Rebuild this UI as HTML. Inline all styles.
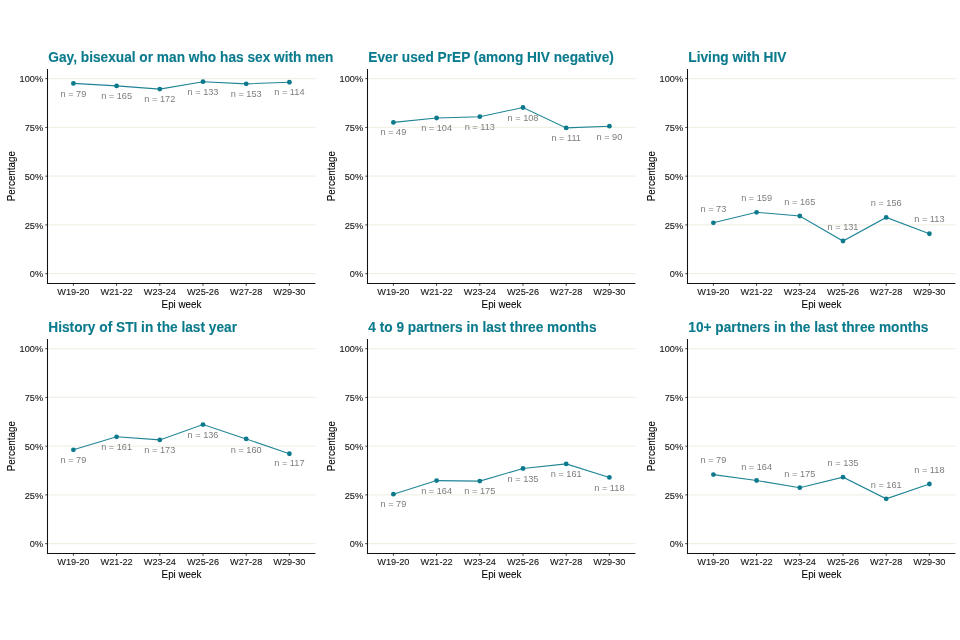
<!DOCTYPE html>
<html><head><meta charset="utf-8"><style>
html,body{margin:0;padding:0;background:#fff;width:960px;height:640px;overflow:hidden}
svg{display:block;will-change:transform;font-family:"Liberation Sans",sans-serif}
</style></head><body>
<svg width="960" height="640" viewBox="0 0 960 640">
<rect width="960" height="640" fill="#fff"/>
<line x1="47.5" y1="273.65" x2="315.4" y2="273.65" stroke="#f0f0e7" stroke-width="1.1"/>
<line x1="47.5" y1="224.9" x2="315.4" y2="224.9" stroke="#f0f0e7" stroke-width="1.1"/>
<line x1="47.5" y1="176.15" x2="315.4" y2="176.15" stroke="#f0f0e7" stroke-width="1.1"/>
<line x1="47.5" y1="127.4" x2="315.4" y2="127.4" stroke="#f0f0e7" stroke-width="1.1"/>
<line x1="47.5" y1="78.65" x2="315.4" y2="78.65" stroke="#f0f0e7" stroke-width="1.1"/>
<line x1="45.3" y1="273.65" x2="47.5" y2="273.65" stroke="#444" stroke-width="1"/>
<text transform="translate(43.1 277.25) scale(1 1.05)" text-anchor="end" font-size="9.2" fill="#1a1a1a" stroke="#1a1a1a" stroke-width="0.12">0%</text>
<line x1="45.3" y1="224.9" x2="47.5" y2="224.9" stroke="#444" stroke-width="1"/>
<text transform="translate(43.1 228.5) scale(1 1.05)" text-anchor="end" font-size="9.2" fill="#1a1a1a" stroke="#1a1a1a" stroke-width="0.12">25%</text>
<line x1="45.3" y1="176.15" x2="47.5" y2="176.15" stroke="#444" stroke-width="1"/>
<text transform="translate(43.1 179.75) scale(1 1.05)" text-anchor="end" font-size="9.2" fill="#1a1a1a" stroke="#1a1a1a" stroke-width="0.12">50%</text>
<line x1="45.3" y1="127.4" x2="47.5" y2="127.4" stroke="#444" stroke-width="1"/>
<text transform="translate(43.1 131) scale(1 1.05)" text-anchor="end" font-size="9.2" fill="#1a1a1a" stroke="#1a1a1a" stroke-width="0.12">75%</text>
<line x1="45.3" y1="78.65" x2="47.5" y2="78.65" stroke="#444" stroke-width="1"/>
<text transform="translate(43.1 82.25) scale(1 1.05)" text-anchor="end" font-size="9.2" fill="#1a1a1a" stroke="#1a1a1a" stroke-width="0.12">100%</text>
<line x1="73.4" y1="283.5" x2="73.4" y2="285.8" stroke="#444" stroke-width="1"/>
<text transform="translate(73.4 294.8) scale(1 1.05)" text-anchor="middle" font-size="9.2" fill="#1a1a1a" stroke="#1a1a1a" stroke-width="0.12">W19-20</text>
<line x1="116.6" y1="283.5" x2="116.6" y2="285.8" stroke="#444" stroke-width="1"/>
<text transform="translate(116.6 294.8) scale(1 1.05)" text-anchor="middle" font-size="9.2" fill="#1a1a1a" stroke="#1a1a1a" stroke-width="0.12">W21-22</text>
<line x1="159.8" y1="283.5" x2="159.8" y2="285.8" stroke="#444" stroke-width="1"/>
<text transform="translate(159.8 294.8) scale(1 1.05)" text-anchor="middle" font-size="9.2" fill="#1a1a1a" stroke="#1a1a1a" stroke-width="0.12">W23-24</text>
<line x1="203" y1="283.5" x2="203" y2="285.8" stroke="#444" stroke-width="1"/>
<text transform="translate(203 294.8) scale(1 1.05)" text-anchor="middle" font-size="9.2" fill="#1a1a1a" stroke="#1a1a1a" stroke-width="0.12">W25-26</text>
<line x1="246.2" y1="283.5" x2="246.2" y2="285.8" stroke="#444" stroke-width="1"/>
<text transform="translate(246.2 294.8) scale(1 1.05)" text-anchor="middle" font-size="9.2" fill="#1a1a1a" stroke="#1a1a1a" stroke-width="0.12">W27-28</text>
<line x1="289.4" y1="283.5" x2="289.4" y2="285.8" stroke="#444" stroke-width="1"/>
<text transform="translate(289.4 294.8) scale(1 1.05)" text-anchor="middle" font-size="9.2" fill="#1a1a1a" stroke="#1a1a1a" stroke-width="0.12">W29-30</text>
<path d="M47.5 68.9 V283.5 H315.4" fill="none" stroke="#111" stroke-width="1.05"/>
<text transform="translate(48.3 62.2) scale(1 1.06)" font-size="13.7" fill="#0a7a8d" stroke="#0a7a8d" stroke-width="0.12" font-weight="bold">Gay, bisexual or man who has sex with men</text>
<text transform="translate(181.45 308.2) scale(1 1.05)" text-anchor="middle" font-size="9.8" fill="#000000" stroke="#000000" stroke-width="0.08">Epi week</text>
<text transform="translate(15.4 176.2) rotate(-90) scale(1 1.05)" text-anchor="middle" font-size="9.8" fill="#000000" stroke="#000000" stroke-width="0.08">Percentage</text>
<path d="M73.4 83.4 L116.6 85.9 L159.8 89.1 L203 81.7 L246.2 83.85 L289.4 82.25" fill="none" stroke="#1f8596" stroke-width="1.1"/>
<circle cx="73.4" cy="83.4" r="2.4" fill="#0c798d"/>
<circle cx="116.6" cy="85.9" r="2.4" fill="#0c798d"/>
<circle cx="159.8" cy="89.1" r="2.4" fill="#0c798d"/>
<circle cx="203" cy="81.7" r="2.4" fill="#0c798d"/>
<circle cx="246.2" cy="83.85" r="2.4" fill="#0c798d"/>
<circle cx="289.4" cy="82.25" r="2.4" fill="#0c798d"/>
<text transform="translate(73.4 96.8) scale(1 1.05)" text-anchor="middle" font-size="9.2" fill="#7d7d7d" stroke="#7d7d7d" stroke-width="0">n = 79</text>
<text transform="translate(116.6 99) scale(1 1.05)" text-anchor="middle" font-size="9.2" fill="#7d7d7d" stroke="#7d7d7d" stroke-width="0">n = 165</text>
<text transform="translate(159.8 102.45) scale(1 1.05)" text-anchor="middle" font-size="9.2" fill="#7d7d7d" stroke="#7d7d7d" stroke-width="0">n = 172</text>
<text transform="translate(203 95) scale(1 1.05)" text-anchor="middle" font-size="9.2" fill="#7d7d7d" stroke="#7d7d7d" stroke-width="0">n = 133</text>
<text transform="translate(246.2 97.2) scale(1 1.05)" text-anchor="middle" font-size="9.2" fill="#7d7d7d" stroke="#7d7d7d" stroke-width="0">n = 153</text>
<text transform="translate(289.4 95.3) scale(1 1.05)" text-anchor="middle" font-size="9.2" fill="#7d7d7d" stroke="#7d7d7d" stroke-width="0">n = 114</text>
<line x1="367.5" y1="273.65" x2="635.4" y2="273.65" stroke="#f0f0e7" stroke-width="1.1"/>
<line x1="367.5" y1="224.9" x2="635.4" y2="224.9" stroke="#f0f0e7" stroke-width="1.1"/>
<line x1="367.5" y1="176.15" x2="635.4" y2="176.15" stroke="#f0f0e7" stroke-width="1.1"/>
<line x1="367.5" y1="127.4" x2="635.4" y2="127.4" stroke="#f0f0e7" stroke-width="1.1"/>
<line x1="367.5" y1="78.65" x2="635.4" y2="78.65" stroke="#f0f0e7" stroke-width="1.1"/>
<line x1="365.3" y1="273.65" x2="367.5" y2="273.65" stroke="#444" stroke-width="1"/>
<text transform="translate(363.1 277.25) scale(1 1.05)" text-anchor="end" font-size="9.2" fill="#1a1a1a" stroke="#1a1a1a" stroke-width="0.12">0%</text>
<line x1="365.3" y1="224.9" x2="367.5" y2="224.9" stroke="#444" stroke-width="1"/>
<text transform="translate(363.1 228.5) scale(1 1.05)" text-anchor="end" font-size="9.2" fill="#1a1a1a" stroke="#1a1a1a" stroke-width="0.12">25%</text>
<line x1="365.3" y1="176.15" x2="367.5" y2="176.15" stroke="#444" stroke-width="1"/>
<text transform="translate(363.1 179.75) scale(1 1.05)" text-anchor="end" font-size="9.2" fill="#1a1a1a" stroke="#1a1a1a" stroke-width="0.12">50%</text>
<line x1="365.3" y1="127.4" x2="367.5" y2="127.4" stroke="#444" stroke-width="1"/>
<text transform="translate(363.1 131) scale(1 1.05)" text-anchor="end" font-size="9.2" fill="#1a1a1a" stroke="#1a1a1a" stroke-width="0.12">75%</text>
<line x1="365.3" y1="78.65" x2="367.5" y2="78.65" stroke="#444" stroke-width="1"/>
<text transform="translate(363.1 82.25) scale(1 1.05)" text-anchor="end" font-size="9.2" fill="#1a1a1a" stroke="#1a1a1a" stroke-width="0.12">100%</text>
<line x1="393.4" y1="283.5" x2="393.4" y2="285.8" stroke="#444" stroke-width="1"/>
<text transform="translate(393.4 294.8) scale(1 1.05)" text-anchor="middle" font-size="9.2" fill="#1a1a1a" stroke="#1a1a1a" stroke-width="0.12">W19-20</text>
<line x1="436.6" y1="283.5" x2="436.6" y2="285.8" stroke="#444" stroke-width="1"/>
<text transform="translate(436.6 294.8) scale(1 1.05)" text-anchor="middle" font-size="9.2" fill="#1a1a1a" stroke="#1a1a1a" stroke-width="0.12">W21-22</text>
<line x1="479.8" y1="283.5" x2="479.8" y2="285.8" stroke="#444" stroke-width="1"/>
<text transform="translate(479.8 294.8) scale(1 1.05)" text-anchor="middle" font-size="9.2" fill="#1a1a1a" stroke="#1a1a1a" stroke-width="0.12">W23-24</text>
<line x1="523" y1="283.5" x2="523" y2="285.8" stroke="#444" stroke-width="1"/>
<text transform="translate(523 294.8) scale(1 1.05)" text-anchor="middle" font-size="9.2" fill="#1a1a1a" stroke="#1a1a1a" stroke-width="0.12">W25-26</text>
<line x1="566.2" y1="283.5" x2="566.2" y2="285.8" stroke="#444" stroke-width="1"/>
<text transform="translate(566.2 294.8) scale(1 1.05)" text-anchor="middle" font-size="9.2" fill="#1a1a1a" stroke="#1a1a1a" stroke-width="0.12">W27-28</text>
<line x1="609.4" y1="283.5" x2="609.4" y2="285.8" stroke="#444" stroke-width="1"/>
<text transform="translate(609.4 294.8) scale(1 1.05)" text-anchor="middle" font-size="9.2" fill="#1a1a1a" stroke="#1a1a1a" stroke-width="0.12">W29-30</text>
<path d="M367.5 68.9 V283.5 H635.4" fill="none" stroke="#111" stroke-width="1.05"/>
<text transform="translate(368.3 62.2) scale(1 1.06)" font-size="13.7" fill="#0a7a8d" stroke="#0a7a8d" stroke-width="0.12" font-weight="bold">Ever used PrEP (among HIV negative)</text>
<text transform="translate(501.45 308.2) scale(1 1.05)" text-anchor="middle" font-size="9.8" fill="#000000" stroke="#000000" stroke-width="0.08">Epi week</text>
<text transform="translate(335.4 176.2) rotate(-90) scale(1 1.05)" text-anchor="middle" font-size="9.8" fill="#000000" stroke="#000000" stroke-width="0.08">Percentage</text>
<path d="M393.4 122.4 L436.6 118 L479.8 116.7 L523 107.5 L566.2 127.9 L609.4 126.2" fill="none" stroke="#1f8596" stroke-width="1.1"/>
<circle cx="393.4" cy="122.4" r="2.4" fill="#0c798d"/>
<circle cx="436.6" cy="118" r="2.4" fill="#0c798d"/>
<circle cx="479.8" cy="116.7" r="2.4" fill="#0c798d"/>
<circle cx="523" cy="107.5" r="2.4" fill="#0c798d"/>
<circle cx="566.2" cy="127.9" r="2.4" fill="#0c798d"/>
<circle cx="609.4" cy="126.2" r="2.4" fill="#0c798d"/>
<text transform="translate(393.4 135.4) scale(1 1.05)" text-anchor="middle" font-size="9.2" fill="#7d7d7d" stroke="#7d7d7d" stroke-width="0">n = 49</text>
<text transform="translate(436.6 131) scale(1 1.05)" text-anchor="middle" font-size="9.2" fill="#7d7d7d" stroke="#7d7d7d" stroke-width="0">n = 104</text>
<text transform="translate(479.8 129.9) scale(1 1.05)" text-anchor="middle" font-size="9.2" fill="#7d7d7d" stroke="#7d7d7d" stroke-width="0">n = 113</text>
<text transform="translate(523 120.8) scale(1 1.05)" text-anchor="middle" font-size="9.2" fill="#7d7d7d" stroke="#7d7d7d" stroke-width="0">n = 108</text>
<text transform="translate(566.2 141.2) scale(1 1.05)" text-anchor="middle" font-size="9.2" fill="#7d7d7d" stroke="#7d7d7d" stroke-width="0">n = 111</text>
<text transform="translate(609.4 139.8) scale(1 1.05)" text-anchor="middle" font-size="9.2" fill="#7d7d7d" stroke="#7d7d7d" stroke-width="0">n = 90</text>
<line x1="687.5" y1="273.65" x2="955.4" y2="273.65" stroke="#f0f0e7" stroke-width="1.1"/>
<line x1="687.5" y1="224.9" x2="955.4" y2="224.9" stroke="#f0f0e7" stroke-width="1.1"/>
<line x1="687.5" y1="176.15" x2="955.4" y2="176.15" stroke="#f0f0e7" stroke-width="1.1"/>
<line x1="687.5" y1="127.4" x2="955.4" y2="127.4" stroke="#f0f0e7" stroke-width="1.1"/>
<line x1="687.5" y1="78.65" x2="955.4" y2="78.65" stroke="#f0f0e7" stroke-width="1.1"/>
<line x1="685.3" y1="273.65" x2="687.5" y2="273.65" stroke="#444" stroke-width="1"/>
<text transform="translate(683.1 277.25) scale(1 1.05)" text-anchor="end" font-size="9.2" fill="#1a1a1a" stroke="#1a1a1a" stroke-width="0.12">0%</text>
<line x1="685.3" y1="224.9" x2="687.5" y2="224.9" stroke="#444" stroke-width="1"/>
<text transform="translate(683.1 228.5) scale(1 1.05)" text-anchor="end" font-size="9.2" fill="#1a1a1a" stroke="#1a1a1a" stroke-width="0.12">25%</text>
<line x1="685.3" y1="176.15" x2="687.5" y2="176.15" stroke="#444" stroke-width="1"/>
<text transform="translate(683.1 179.75) scale(1 1.05)" text-anchor="end" font-size="9.2" fill="#1a1a1a" stroke="#1a1a1a" stroke-width="0.12">50%</text>
<line x1="685.3" y1="127.4" x2="687.5" y2="127.4" stroke="#444" stroke-width="1"/>
<text transform="translate(683.1 131) scale(1 1.05)" text-anchor="end" font-size="9.2" fill="#1a1a1a" stroke="#1a1a1a" stroke-width="0.12">75%</text>
<line x1="685.3" y1="78.65" x2="687.5" y2="78.65" stroke="#444" stroke-width="1"/>
<text transform="translate(683.1 82.25) scale(1 1.05)" text-anchor="end" font-size="9.2" fill="#1a1a1a" stroke="#1a1a1a" stroke-width="0.12">100%</text>
<line x1="713.4" y1="283.5" x2="713.4" y2="285.8" stroke="#444" stroke-width="1"/>
<text transform="translate(713.4 294.8) scale(1 1.05)" text-anchor="middle" font-size="9.2" fill="#1a1a1a" stroke="#1a1a1a" stroke-width="0.12">W19-20</text>
<line x1="756.6" y1="283.5" x2="756.6" y2="285.8" stroke="#444" stroke-width="1"/>
<text transform="translate(756.6 294.8) scale(1 1.05)" text-anchor="middle" font-size="9.2" fill="#1a1a1a" stroke="#1a1a1a" stroke-width="0.12">W21-22</text>
<line x1="799.8" y1="283.5" x2="799.8" y2="285.8" stroke="#444" stroke-width="1"/>
<text transform="translate(799.8 294.8) scale(1 1.05)" text-anchor="middle" font-size="9.2" fill="#1a1a1a" stroke="#1a1a1a" stroke-width="0.12">W23-24</text>
<line x1="843" y1="283.5" x2="843" y2="285.8" stroke="#444" stroke-width="1"/>
<text transform="translate(843 294.8) scale(1 1.05)" text-anchor="middle" font-size="9.2" fill="#1a1a1a" stroke="#1a1a1a" stroke-width="0.12">W25-26</text>
<line x1="886.2" y1="283.5" x2="886.2" y2="285.8" stroke="#444" stroke-width="1"/>
<text transform="translate(886.2 294.8) scale(1 1.05)" text-anchor="middle" font-size="9.2" fill="#1a1a1a" stroke="#1a1a1a" stroke-width="0.12">W27-28</text>
<line x1="929.4" y1="283.5" x2="929.4" y2="285.8" stroke="#444" stroke-width="1"/>
<text transform="translate(929.4 294.8) scale(1 1.05)" text-anchor="middle" font-size="9.2" fill="#1a1a1a" stroke="#1a1a1a" stroke-width="0.12">W29-30</text>
<path d="M687.5 68.9 V283.5 H955.4" fill="none" stroke="#111" stroke-width="1.05"/>
<text transform="translate(688.3 62.2) scale(1 1.06)" font-size="13.7" fill="#0a7a8d" stroke="#0a7a8d" stroke-width="0.12" font-weight="bold">Living with HIV</text>
<text transform="translate(821.45 308.2) scale(1 1.05)" text-anchor="middle" font-size="9.8" fill="#000000" stroke="#000000" stroke-width="0.08">Epi week</text>
<text transform="translate(655.4 176.2) rotate(-90) scale(1 1.05)" text-anchor="middle" font-size="9.8" fill="#000000" stroke="#000000" stroke-width="0.08">Percentage</text>
<path d="M713.4 222.8 L756.6 212.3 L799.8 216 L843 241 L886.2 217.4 L929.4 233.75" fill="none" stroke="#1f8596" stroke-width="1.1"/>
<circle cx="713.4" cy="222.8" r="2.4" fill="#0c798d"/>
<circle cx="756.6" cy="212.3" r="2.4" fill="#0c798d"/>
<circle cx="799.8" cy="216" r="2.4" fill="#0c798d"/>
<circle cx="843" cy="241" r="2.4" fill="#0c798d"/>
<circle cx="886.2" cy="217.4" r="2.4" fill="#0c798d"/>
<circle cx="929.4" cy="233.75" r="2.4" fill="#0c798d"/>
<text transform="translate(713.4 211.9) scale(1 1.05)" text-anchor="middle" font-size="9.2" fill="#7d7d7d" stroke="#7d7d7d" stroke-width="0">n = 73</text>
<text transform="translate(756.6 201.4) scale(1 1.05)" text-anchor="middle" font-size="9.2" fill="#7d7d7d" stroke="#7d7d7d" stroke-width="0">n = 159</text>
<text transform="translate(799.8 204.6) scale(1 1.05)" text-anchor="middle" font-size="9.2" fill="#7d7d7d" stroke="#7d7d7d" stroke-width="0">n = 165</text>
<text transform="translate(843 229.7) scale(1 1.05)" text-anchor="middle" font-size="9.2" fill="#7d7d7d" stroke="#7d7d7d" stroke-width="0">n = 131</text>
<text transform="translate(886.2 206.3) scale(1 1.05)" text-anchor="middle" font-size="9.2" fill="#7d7d7d" stroke="#7d7d7d" stroke-width="0">n = 156</text>
<text transform="translate(929.4 222.4) scale(1 1.05)" text-anchor="middle" font-size="9.2" fill="#7d7d7d" stroke="#7d7d7d" stroke-width="0">n = 113</text>
<line x1="47.5" y1="543.65" x2="315.4" y2="543.65" stroke="#f0f0e7" stroke-width="1.1"/>
<line x1="47.5" y1="494.9" x2="315.4" y2="494.9" stroke="#f0f0e7" stroke-width="1.1"/>
<line x1="47.5" y1="446.15" x2="315.4" y2="446.15" stroke="#f0f0e7" stroke-width="1.1"/>
<line x1="47.5" y1="397.4" x2="315.4" y2="397.4" stroke="#f0f0e7" stroke-width="1.1"/>
<line x1="47.5" y1="348.65" x2="315.4" y2="348.65" stroke="#f0f0e7" stroke-width="1.1"/>
<line x1="45.3" y1="543.65" x2="47.5" y2="543.65" stroke="#444" stroke-width="1"/>
<text transform="translate(43.1 547.25) scale(1 1.05)" text-anchor="end" font-size="9.2" fill="#1a1a1a" stroke="#1a1a1a" stroke-width="0.12">0%</text>
<line x1="45.3" y1="494.9" x2="47.5" y2="494.9" stroke="#444" stroke-width="1"/>
<text transform="translate(43.1 498.5) scale(1 1.05)" text-anchor="end" font-size="9.2" fill="#1a1a1a" stroke="#1a1a1a" stroke-width="0.12">25%</text>
<line x1="45.3" y1="446.15" x2="47.5" y2="446.15" stroke="#444" stroke-width="1"/>
<text transform="translate(43.1 449.75) scale(1 1.05)" text-anchor="end" font-size="9.2" fill="#1a1a1a" stroke="#1a1a1a" stroke-width="0.12">50%</text>
<line x1="45.3" y1="397.4" x2="47.5" y2="397.4" stroke="#444" stroke-width="1"/>
<text transform="translate(43.1 401) scale(1 1.05)" text-anchor="end" font-size="9.2" fill="#1a1a1a" stroke="#1a1a1a" stroke-width="0.12">75%</text>
<line x1="45.3" y1="348.65" x2="47.5" y2="348.65" stroke="#444" stroke-width="1"/>
<text transform="translate(43.1 352.25) scale(1 1.05)" text-anchor="end" font-size="9.2" fill="#1a1a1a" stroke="#1a1a1a" stroke-width="0.12">100%</text>
<line x1="73.4" y1="553.5" x2="73.4" y2="555.8" stroke="#444" stroke-width="1"/>
<text transform="translate(73.4 564.8) scale(1 1.05)" text-anchor="middle" font-size="9.2" fill="#1a1a1a" stroke="#1a1a1a" stroke-width="0.12">W19-20</text>
<line x1="116.6" y1="553.5" x2="116.6" y2="555.8" stroke="#444" stroke-width="1"/>
<text transform="translate(116.6 564.8) scale(1 1.05)" text-anchor="middle" font-size="9.2" fill="#1a1a1a" stroke="#1a1a1a" stroke-width="0.12">W21-22</text>
<line x1="159.8" y1="553.5" x2="159.8" y2="555.8" stroke="#444" stroke-width="1"/>
<text transform="translate(159.8 564.8) scale(1 1.05)" text-anchor="middle" font-size="9.2" fill="#1a1a1a" stroke="#1a1a1a" stroke-width="0.12">W23-24</text>
<line x1="203" y1="553.5" x2="203" y2="555.8" stroke="#444" stroke-width="1"/>
<text transform="translate(203 564.8) scale(1 1.05)" text-anchor="middle" font-size="9.2" fill="#1a1a1a" stroke="#1a1a1a" stroke-width="0.12">W25-26</text>
<line x1="246.2" y1="553.5" x2="246.2" y2="555.8" stroke="#444" stroke-width="1"/>
<text transform="translate(246.2 564.8) scale(1 1.05)" text-anchor="middle" font-size="9.2" fill="#1a1a1a" stroke="#1a1a1a" stroke-width="0.12">W27-28</text>
<line x1="289.4" y1="553.5" x2="289.4" y2="555.8" stroke="#444" stroke-width="1"/>
<text transform="translate(289.4 564.8) scale(1 1.05)" text-anchor="middle" font-size="9.2" fill="#1a1a1a" stroke="#1a1a1a" stroke-width="0.12">W29-30</text>
<path d="M47.5 338.9 V553.5 H315.4" fill="none" stroke="#111" stroke-width="1.05"/>
<text transform="translate(48.3 332.2) scale(1 1.06)" font-size="13.7" fill="#0a7a8d" stroke="#0a7a8d" stroke-width="0.12" font-weight="bold">History of STI in the last year</text>
<text transform="translate(181.45 578.2) scale(1 1.05)" text-anchor="middle" font-size="9.8" fill="#000000" stroke="#000000" stroke-width="0.08">Epi week</text>
<text transform="translate(15.4 446.2) rotate(-90) scale(1 1.05)" text-anchor="middle" font-size="9.8" fill="#000000" stroke="#000000" stroke-width="0.08">Percentage</text>
<path d="M73.4 449.8 L116.6 436.8 L159.8 439.9 L203 424.6 L246.2 438.9 L289.4 453.75" fill="none" stroke="#1f8596" stroke-width="1.1"/>
<circle cx="73.4" cy="449.8" r="2.4" fill="#0c798d"/>
<circle cx="116.6" cy="436.8" r="2.4" fill="#0c798d"/>
<circle cx="159.8" cy="439.9" r="2.4" fill="#0c798d"/>
<circle cx="203" cy="424.6" r="2.4" fill="#0c798d"/>
<circle cx="246.2" cy="438.9" r="2.4" fill="#0c798d"/>
<circle cx="289.4" cy="453.75" r="2.4" fill="#0c798d"/>
<text transform="translate(73.4 463) scale(1 1.05)" text-anchor="middle" font-size="9.2" fill="#7d7d7d" stroke="#7d7d7d" stroke-width="0">n = 79</text>
<text transform="translate(116.6 450.3) scale(1 1.05)" text-anchor="middle" font-size="9.2" fill="#7d7d7d" stroke="#7d7d7d" stroke-width="0">n = 161</text>
<text transform="translate(159.8 453.2) scale(1 1.05)" text-anchor="middle" font-size="9.2" fill="#7d7d7d" stroke="#7d7d7d" stroke-width="0">n = 173</text>
<text transform="translate(203 437.9) scale(1 1.05)" text-anchor="middle" font-size="9.2" fill="#7d7d7d" stroke="#7d7d7d" stroke-width="0">n = 136</text>
<text transform="translate(246.2 452.5) scale(1 1.05)" text-anchor="middle" font-size="9.2" fill="#7d7d7d" stroke="#7d7d7d" stroke-width="0">n = 160</text>
<text transform="translate(289.4 466.3) scale(1 1.05)" text-anchor="middle" font-size="9.2" fill="#7d7d7d" stroke="#7d7d7d" stroke-width="0">n = 117</text>
<line x1="367.5" y1="543.65" x2="635.4" y2="543.65" stroke="#f0f0e7" stroke-width="1.1"/>
<line x1="367.5" y1="494.9" x2="635.4" y2="494.9" stroke="#f0f0e7" stroke-width="1.1"/>
<line x1="367.5" y1="446.15" x2="635.4" y2="446.15" stroke="#f0f0e7" stroke-width="1.1"/>
<line x1="367.5" y1="397.4" x2="635.4" y2="397.4" stroke="#f0f0e7" stroke-width="1.1"/>
<line x1="367.5" y1="348.65" x2="635.4" y2="348.65" stroke="#f0f0e7" stroke-width="1.1"/>
<line x1="365.3" y1="543.65" x2="367.5" y2="543.65" stroke="#444" stroke-width="1"/>
<text transform="translate(363.1 547.25) scale(1 1.05)" text-anchor="end" font-size="9.2" fill="#1a1a1a" stroke="#1a1a1a" stroke-width="0.12">0%</text>
<line x1="365.3" y1="494.9" x2="367.5" y2="494.9" stroke="#444" stroke-width="1"/>
<text transform="translate(363.1 498.5) scale(1 1.05)" text-anchor="end" font-size="9.2" fill="#1a1a1a" stroke="#1a1a1a" stroke-width="0.12">25%</text>
<line x1="365.3" y1="446.15" x2="367.5" y2="446.15" stroke="#444" stroke-width="1"/>
<text transform="translate(363.1 449.75) scale(1 1.05)" text-anchor="end" font-size="9.2" fill="#1a1a1a" stroke="#1a1a1a" stroke-width="0.12">50%</text>
<line x1="365.3" y1="397.4" x2="367.5" y2="397.4" stroke="#444" stroke-width="1"/>
<text transform="translate(363.1 401) scale(1 1.05)" text-anchor="end" font-size="9.2" fill="#1a1a1a" stroke="#1a1a1a" stroke-width="0.12">75%</text>
<line x1="365.3" y1="348.65" x2="367.5" y2="348.65" stroke="#444" stroke-width="1"/>
<text transform="translate(363.1 352.25) scale(1 1.05)" text-anchor="end" font-size="9.2" fill="#1a1a1a" stroke="#1a1a1a" stroke-width="0.12">100%</text>
<line x1="393.4" y1="553.5" x2="393.4" y2="555.8" stroke="#444" stroke-width="1"/>
<text transform="translate(393.4 564.8) scale(1 1.05)" text-anchor="middle" font-size="9.2" fill="#1a1a1a" stroke="#1a1a1a" stroke-width="0.12">W19-20</text>
<line x1="436.6" y1="553.5" x2="436.6" y2="555.8" stroke="#444" stroke-width="1"/>
<text transform="translate(436.6 564.8) scale(1 1.05)" text-anchor="middle" font-size="9.2" fill="#1a1a1a" stroke="#1a1a1a" stroke-width="0.12">W21-22</text>
<line x1="479.8" y1="553.5" x2="479.8" y2="555.8" stroke="#444" stroke-width="1"/>
<text transform="translate(479.8 564.8) scale(1 1.05)" text-anchor="middle" font-size="9.2" fill="#1a1a1a" stroke="#1a1a1a" stroke-width="0.12">W23-24</text>
<line x1="523" y1="553.5" x2="523" y2="555.8" stroke="#444" stroke-width="1"/>
<text transform="translate(523 564.8) scale(1 1.05)" text-anchor="middle" font-size="9.2" fill="#1a1a1a" stroke="#1a1a1a" stroke-width="0.12">W25-26</text>
<line x1="566.2" y1="553.5" x2="566.2" y2="555.8" stroke="#444" stroke-width="1"/>
<text transform="translate(566.2 564.8) scale(1 1.05)" text-anchor="middle" font-size="9.2" fill="#1a1a1a" stroke="#1a1a1a" stroke-width="0.12">W27-28</text>
<line x1="609.4" y1="553.5" x2="609.4" y2="555.8" stroke="#444" stroke-width="1"/>
<text transform="translate(609.4 564.8) scale(1 1.05)" text-anchor="middle" font-size="9.2" fill="#1a1a1a" stroke="#1a1a1a" stroke-width="0.12">W29-30</text>
<path d="M367.5 338.9 V553.5 H635.4" fill="none" stroke="#111" stroke-width="1.05"/>
<text transform="translate(368.3 332.2) scale(1 1.06)" font-size="13.7" fill="#0a7a8d" stroke="#0a7a8d" stroke-width="0.12" font-weight="bold">4 to 9 partners in last three months</text>
<text transform="translate(501.45 578.2) scale(1 1.05)" text-anchor="middle" font-size="9.8" fill="#000000" stroke="#000000" stroke-width="0.08">Epi week</text>
<text transform="translate(335.4 446.2) rotate(-90) scale(1 1.05)" text-anchor="middle" font-size="9.8" fill="#000000" stroke="#000000" stroke-width="0.08">Percentage</text>
<path d="M393.4 494.2 L436.6 480.6 L479.8 481.1 L523 468.5 L566.2 463.9 L609.4 477.4" fill="none" stroke="#1f8596" stroke-width="1.1"/>
<circle cx="393.4" cy="494.2" r="2.4" fill="#0c798d"/>
<circle cx="436.6" cy="480.6" r="2.4" fill="#0c798d"/>
<circle cx="479.8" cy="481.1" r="2.4" fill="#0c798d"/>
<circle cx="523" cy="468.5" r="2.4" fill="#0c798d"/>
<circle cx="566.2" cy="463.9" r="2.4" fill="#0c798d"/>
<circle cx="609.4" cy="477.4" r="2.4" fill="#0c798d"/>
<text transform="translate(393.4 507.1) scale(1 1.05)" text-anchor="middle" font-size="9.2" fill="#7d7d7d" stroke="#7d7d7d" stroke-width="0">n = 79</text>
<text transform="translate(436.6 493.5) scale(1 1.05)" text-anchor="middle" font-size="9.2" fill="#7d7d7d" stroke="#7d7d7d" stroke-width="0">n = 164</text>
<text transform="translate(479.8 494.2) scale(1 1.05)" text-anchor="middle" font-size="9.2" fill="#7d7d7d" stroke="#7d7d7d" stroke-width="0">n = 175</text>
<text transform="translate(523 481.6) scale(1 1.05)" text-anchor="middle" font-size="9.2" fill="#7d7d7d" stroke="#7d7d7d" stroke-width="0">n = 135</text>
<text transform="translate(566.2 477.2) scale(1 1.05)" text-anchor="middle" font-size="9.2" fill="#7d7d7d" stroke="#7d7d7d" stroke-width="0">n = 161</text>
<text transform="translate(609.4 490.6) scale(1 1.05)" text-anchor="middle" font-size="9.2" fill="#7d7d7d" stroke="#7d7d7d" stroke-width="0">n = 118</text>
<line x1="687.5" y1="543.65" x2="955.4" y2="543.65" stroke="#f0f0e7" stroke-width="1.1"/>
<line x1="687.5" y1="494.9" x2="955.4" y2="494.9" stroke="#f0f0e7" stroke-width="1.1"/>
<line x1="687.5" y1="446.15" x2="955.4" y2="446.15" stroke="#f0f0e7" stroke-width="1.1"/>
<line x1="687.5" y1="397.4" x2="955.4" y2="397.4" stroke="#f0f0e7" stroke-width="1.1"/>
<line x1="687.5" y1="348.65" x2="955.4" y2="348.65" stroke="#f0f0e7" stroke-width="1.1"/>
<line x1="685.3" y1="543.65" x2="687.5" y2="543.65" stroke="#444" stroke-width="1"/>
<text transform="translate(683.1 547.25) scale(1 1.05)" text-anchor="end" font-size="9.2" fill="#1a1a1a" stroke="#1a1a1a" stroke-width="0.12">0%</text>
<line x1="685.3" y1="494.9" x2="687.5" y2="494.9" stroke="#444" stroke-width="1"/>
<text transform="translate(683.1 498.5) scale(1 1.05)" text-anchor="end" font-size="9.2" fill="#1a1a1a" stroke="#1a1a1a" stroke-width="0.12">25%</text>
<line x1="685.3" y1="446.15" x2="687.5" y2="446.15" stroke="#444" stroke-width="1"/>
<text transform="translate(683.1 449.75) scale(1 1.05)" text-anchor="end" font-size="9.2" fill="#1a1a1a" stroke="#1a1a1a" stroke-width="0.12">50%</text>
<line x1="685.3" y1="397.4" x2="687.5" y2="397.4" stroke="#444" stroke-width="1"/>
<text transform="translate(683.1 401) scale(1 1.05)" text-anchor="end" font-size="9.2" fill="#1a1a1a" stroke="#1a1a1a" stroke-width="0.12">75%</text>
<line x1="685.3" y1="348.65" x2="687.5" y2="348.65" stroke="#444" stroke-width="1"/>
<text transform="translate(683.1 352.25) scale(1 1.05)" text-anchor="end" font-size="9.2" fill="#1a1a1a" stroke="#1a1a1a" stroke-width="0.12">100%</text>
<line x1="713.4" y1="553.5" x2="713.4" y2="555.8" stroke="#444" stroke-width="1"/>
<text transform="translate(713.4 564.8) scale(1 1.05)" text-anchor="middle" font-size="9.2" fill="#1a1a1a" stroke="#1a1a1a" stroke-width="0.12">W19-20</text>
<line x1="756.6" y1="553.5" x2="756.6" y2="555.8" stroke="#444" stroke-width="1"/>
<text transform="translate(756.6 564.8) scale(1 1.05)" text-anchor="middle" font-size="9.2" fill="#1a1a1a" stroke="#1a1a1a" stroke-width="0.12">W21-22</text>
<line x1="799.8" y1="553.5" x2="799.8" y2="555.8" stroke="#444" stroke-width="1"/>
<text transform="translate(799.8 564.8) scale(1 1.05)" text-anchor="middle" font-size="9.2" fill="#1a1a1a" stroke="#1a1a1a" stroke-width="0.12">W23-24</text>
<line x1="843" y1="553.5" x2="843" y2="555.8" stroke="#444" stroke-width="1"/>
<text transform="translate(843 564.8) scale(1 1.05)" text-anchor="middle" font-size="9.2" fill="#1a1a1a" stroke="#1a1a1a" stroke-width="0.12">W25-26</text>
<line x1="886.2" y1="553.5" x2="886.2" y2="555.8" stroke="#444" stroke-width="1"/>
<text transform="translate(886.2 564.8) scale(1 1.05)" text-anchor="middle" font-size="9.2" fill="#1a1a1a" stroke="#1a1a1a" stroke-width="0.12">W27-28</text>
<line x1="929.4" y1="553.5" x2="929.4" y2="555.8" stroke="#444" stroke-width="1"/>
<text transform="translate(929.4 564.8) scale(1 1.05)" text-anchor="middle" font-size="9.2" fill="#1a1a1a" stroke="#1a1a1a" stroke-width="0.12">W29-30</text>
<path d="M687.5 338.9 V553.5 H955.4" fill="none" stroke="#111" stroke-width="1.05"/>
<text transform="translate(688.3 332.2) scale(1 1.06)" font-size="13.7" fill="#0a7a8d" stroke="#0a7a8d" stroke-width="0.12" font-weight="bold">10+ partners in the last three months</text>
<text transform="translate(821.45 578.2) scale(1 1.05)" text-anchor="middle" font-size="9.8" fill="#000000" stroke="#000000" stroke-width="0.08">Epi week</text>
<text transform="translate(655.4 446.2) rotate(-90) scale(1 1.05)" text-anchor="middle" font-size="9.8" fill="#000000" stroke="#000000" stroke-width="0.08">Percentage</text>
<path d="M713.4 474.6 L756.6 480.5 L799.8 487.7 L843 477.2 L886.2 498.8 L929.4 484" fill="none" stroke="#1f8596" stroke-width="1.1"/>
<circle cx="713.4" cy="474.6" r="2.4" fill="#0c798d"/>
<circle cx="756.6" cy="480.5" r="2.4" fill="#0c798d"/>
<circle cx="799.8" cy="487.7" r="2.4" fill="#0c798d"/>
<circle cx="843" cy="477.2" r="2.4" fill="#0c798d"/>
<circle cx="886.2" cy="498.8" r="2.4" fill="#0c798d"/>
<circle cx="929.4" cy="484" r="2.4" fill="#0c798d"/>
<text transform="translate(713.4 463.3) scale(1 1.05)" text-anchor="middle" font-size="9.2" fill="#7d7d7d" stroke="#7d7d7d" stroke-width="0">n = 79</text>
<text transform="translate(756.6 469.5) scale(1 1.05)" text-anchor="middle" font-size="9.2" fill="#7d7d7d" stroke="#7d7d7d" stroke-width="0">n = 164</text>
<text transform="translate(799.8 476.75) scale(1 1.05)" text-anchor="middle" font-size="9.2" fill="#7d7d7d" stroke="#7d7d7d" stroke-width="0">n = 175</text>
<text transform="translate(843 466.25) scale(1 1.05)" text-anchor="middle" font-size="9.2" fill="#7d7d7d" stroke="#7d7d7d" stroke-width="0">n = 135</text>
<text transform="translate(886.2 487.8) scale(1 1.05)" text-anchor="middle" font-size="9.2" fill="#7d7d7d" stroke="#7d7d7d" stroke-width="0">n = 161</text>
<text transform="translate(929.4 473.25) scale(1 1.05)" text-anchor="middle" font-size="9.2" fill="#7d7d7d" stroke="#7d7d7d" stroke-width="0">n = 118</text>
</svg>
</body></html>
